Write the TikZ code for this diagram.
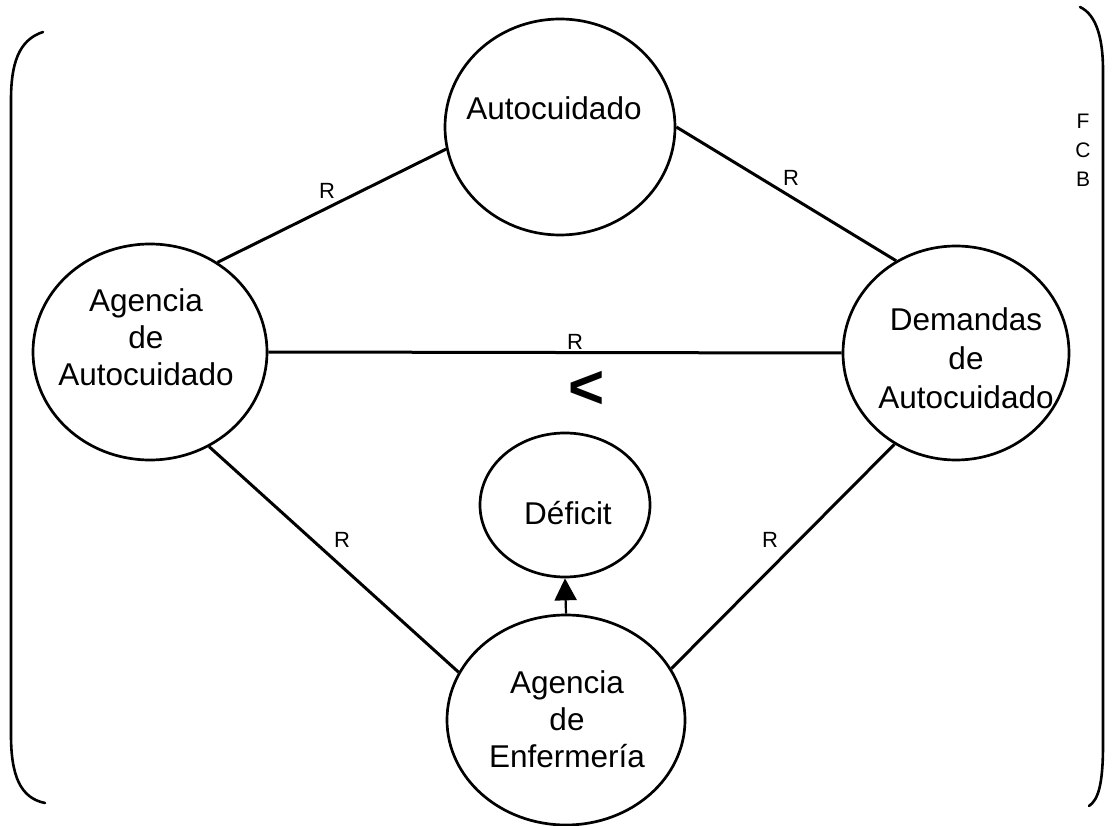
\documentclass[tikz,border=0pt]{standalone}
\usepackage{fontspec}
\setmainfont{Liberation Sans}
\usetikzlibrary{shapes.geometric,arrows.meta}
\tikzset{
  circ/.style={draw, shape=ellipse, inner sep=0pt, line width=2.7pt},
  conn/.style={line width=3pt},
  ntext/.style={align=center, inner sep=0pt, font=\fontsize{31.5}{37}\selectfont},
  rlab/.style={inner sep=0pt, font=\fontsize{22}{26}\selectfont},
  brack/.style={line width=2.6pt, line cap=round}
}
\begin{document}
\begin{tikzpicture}[x=1pt,y=-1pt]
\useasboundingbox (0,0) rectangle (1117,826);
% nodes (ellipses)
\node[circ, minimum width=230pt, minimum height=216pt] (auto) at (560,127) {};
\node[circ, minimum width=234pt, minimum height=216pt] (aga) at (150,352) {};
\node[circ, minimum width=226pt, minimum height=214pt] (dem) at (956,353) {};
\node[circ, minimum width=170pt, minimum height=144pt] (def) at (565,505) {};
\node[circ, minimum width=238pt, minimum height=210pt] (enf) at (566,720) {};
% texts
\node[ntext] (tauto) at (554,108) {Autocuidado};
\node[ntext] (taga) at (146,337) {Agencia\\de\\Autocuidado};
\node[ntext, font=\fontsize{31.5}{39}\selectfont] (tdem) at (966,358) {Demandas\\de\\Autocuidado};
\node[ntext] (tdef) at (568,513) {Déficit};
\node[ntext] (tenf) at (567,719) {Agencia\\de\\Enfermería};
% connectors
\draw[conn] (aga.53.5) -- (auto.191.4);
\draw[conn] (auto.0) -- (dem.123);
\draw[conn] (aga.0) -- (dem.180);
\draw[conn] (aga.-58.6) -- (enf.156.5);
\draw[conn] (dem.236.9) -- (enf.26.3);
\draw[line width=2.2pt, -{Triangle[length=22pt,width=22pt]}] (enf.north) -- (def.south);
% R labels
\node[rlab] (r1) at (327,191) {R};
\node[rlab] (r2) at (791,178) {R};
\node[rlab] (r3) at (575,342) {R};
\node[rlab] (r4) at (342,540) {R};
\node[rlab] (r5) at (770,540) {R};
% less-than sign
\node[inner sep=0pt, font=\bfseries\fontsize{62}{66}\selectfont] (lt) at (587,390) {<};
% F C B
\node[align=center, inner sep=0pt, font=\fontsize{21}{29}\selectfont] (fcb) at (1083,150) {F\\C\\B};
% brackets
\draw[brack] (43,32) .. controls (18,40) and (11,65) .. (11,100) -- (11,735) .. controls (11,775) and (20,798) .. (45,803);
\draw[brack] (1080,7) .. controls (1097,15) and (1103,40) .. (1103,70) -- (1103,745) .. controls (1103,785) and (1098,800) .. (1089,806);
\end{tikzpicture}
\end{document}
